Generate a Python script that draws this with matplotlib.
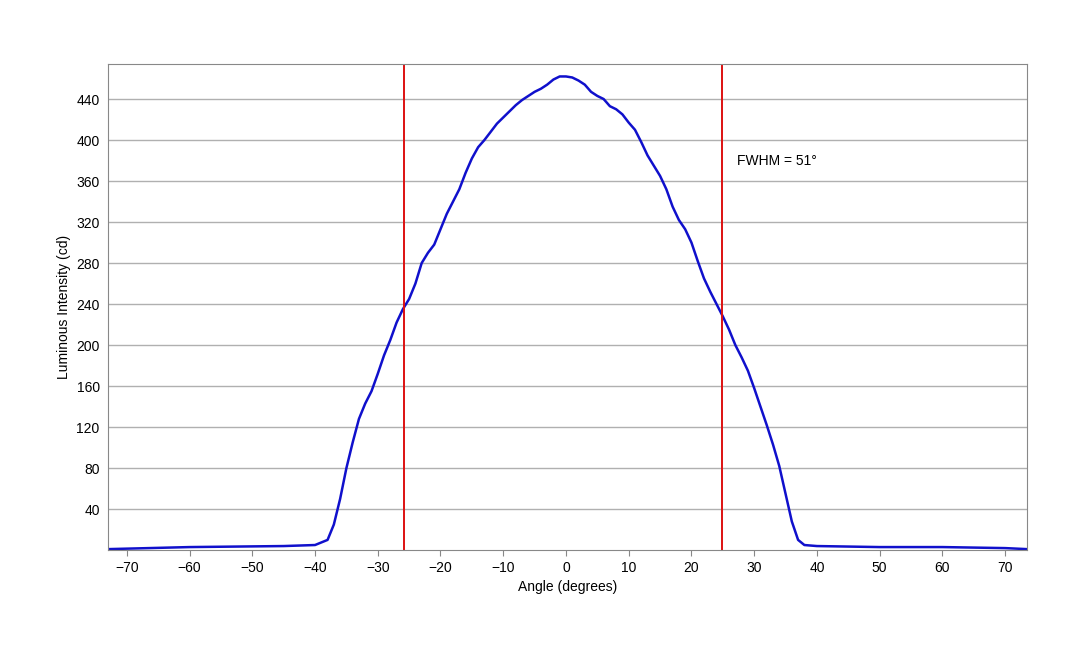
import matplotlib
matplotlib.use("Agg")
import matplotlib.pyplot as plt

plt.rcParams['font.family'] = ['Liberation Sans', 'DejaVu Sans']

angle = [-73, -60, -45, -40, -38, -37, -36, -35, -34, -33, -32, -31, -30, -29, -28, -27, -26, -25,
         -24, -23, -22, -21, -20, -19, -18, -17, -16, -15, -14, -13, -12, -11, -10, -9, -8, -7, -6,
         -5, -4, -3, -2, -1, 0, 1, 2, 3, 4, 5, 6, 7, 8, 9, 10, 11, 12, 13, 14, 15, 16, 17, 18, 19,
         20, 21, 22, 23, 24, 25, 26, 27, 28, 29, 30, 31, 32, 33, 34, 35, 36, 37, 38, 40, 50, 60, 70, 73.5]
intensity = [1, 3, 4, 5, 10, 25, 50, 80, 105, 128, 143, 155, 172, 190, 205, 222, 235, 245,
             260, 280, 290, 298, 313, 328, 340, 352, 368, 382, 393, 400, 408, 416, 422, 428, 434, 439, 443,
             447, 450, 454, 459, 462, 462, 461, 458, 454, 447, 443, 440, 433, 430, 425, 417, 410, 398, 385,
             375, 365, 352, 335, 322, 313, 300, 282, 265, 252, 240, 228, 215, 200, 188, 175, 158, 140, 122,
             103, 82, 55, 28, 10, 5, 4, 3, 3, 2, 1]
fwhm_edges = [-25.8, 24.9]
xticks = list(range(-70, 71, 10))
yticks = list(range(40, 441, 40))

fig = plt.figure(figsize=(10.8, 6.48), dpi=100)
ax = fig.add_axes([0.1, 0.151, 0.851, 0.75])
ax.set_xlim(-73, 73.5)
ax.set_ylim(0, 474)
ax.set_yticks(yticks)
ax.set_xticks(xticks)
ax.yaxis.grid(True, color='#b0b0b0', linewidth=1)
ax.set_axisbelow(True)
for s in ax.spines.values():
    s.set_color('#888888')
ax.tick_params(labelsize=10, color='#888888', length=4)
ax.tick_params(axis='y', length=0, pad=6)
ax.plot(angle, intensity, color='#1010cc', linewidth=1.8)
for e in fwhm_edges:
    ax.axvline(e, color='#dd1111', linewidth=1.4)
ax.text(27.3, 380, 'FWHM = 51°', fontsize=10, va='center')
ax.set_xlabel('Angle (degrees)', fontsize=10)
ax.set_ylabel('Luminous Intensity (cd)', fontsize=10)
fig.savefig('out.png', dpi=100)
